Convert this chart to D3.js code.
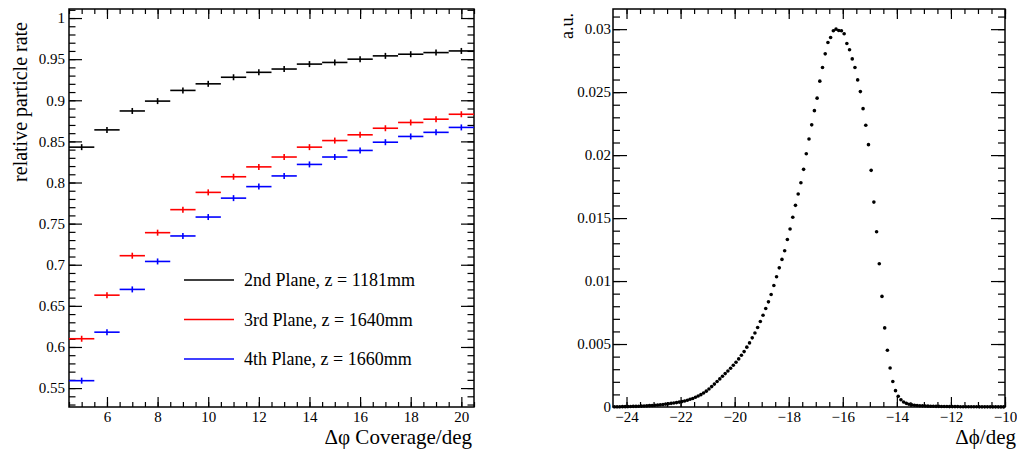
<!DOCTYPE html>
<html>
<head>
<meta charset="utf-8">
<script src="https://cdn.jsdelivr.net/npm/d3@7"></script>
<style>
  body { margin: 0; background: #fff; }
  svg { display: block; }
  text { font-family: "Liberation Serif", "Times New Roman", serif; fill: #000; }
</style>
</head>
<body>
<svg id="chart" width="1017" height="452"></svg>
<script>
  "use strict";

  // left pad: relative particle rate vs. coverage (bin centres, width 1 deg)
  const coverage = [5, 6, 7, 8, 9, 10, 11, 12, 13, 14, 15, 16, 17, 18, 19, 20];
  const rate2nd = [0.843, 0.864, 0.887, 0.899, 0.912, 0.920, 0.928, 0.934, 0.938, 0.944, 0.946, 0.950, 0.954, 0.956, 0.958, 0.960];
  const rate3rd = [0.610, 0.663, 0.711, 0.739, 0.767, 0.788, 0.807, 0.819, 0.831, 0.843, 0.851, 0.858, 0.866, 0.873, 0.877, 0.883];
  const rate4th = [0.559, 0.618, 0.670, 0.704, 0.735, 0.758, 0.781, 0.795, 0.808, 0.822, 0.831, 0.839, 0.849, 0.856, 0.861, 0.867];
  const planeLabels = ["2nd Plane, z = 1181mm", "3rd Plane, z = 1640mm", "4th Plane, z = 1660mm"];
  const coverageTicks = [6, 8, 10, 12, 14, 16, 18, 20];

  // right pad: delta phi distribution, 0.1 deg bins starting at -24.5
  const dphiFirstCentre = -24.45;
  const dphiBinWidth = 0.1;
  const dphiValues = [
    0.00002, 0.00002, 0.00002, 0.00003, 0.00003, 0.00003, 0.00004, 0.00005, 0.00005, 0.00006,
    0.00007, 0.00008, 0.00009, 0.00011, 0.00012, 0.00014, 0.00016, 0.00018, 0.00020, 0.00023,
    0.00026, 0.00029, 0.00032, 0.00035, 0.00039, 0.00043, 0.00048, 0.00054, 0.00061, 0.00068,
    0.00077, 0.00087, 0.00098, 0.00111, 0.00126, 0.00143, 0.00162, 0.00182, 0.00202, 0.00223,
    0.00244, 0.00265, 0.00286, 0.00308, 0.00332, 0.00355, 0.00382, 0.00411, 0.00440, 0.00475,
    0.00509, 0.00549, 0.00588, 0.00631, 0.00679, 0.00729, 0.00782, 0.00835, 0.00893, 0.00965,
    0.01034, 0.01105, 0.01172, 0.01240, 0.01330, 0.01413, 0.01506, 0.01601, 0.01691, 0.01781,
    0.01887, 0.02011, 0.02128, 0.02240, 0.02353, 0.02452, 0.02587, 0.02695, 0.02804, 0.02894,
    0.02934, 0.02987, 0.03000, 0.02989, 0.02987, 0.02963, 0.02886, 0.02836, 0.02764, 0.02695,
    0.02597, 0.02504, 0.02369, 0.02237, 0.02083, 0.01879, 0.01627, 0.01391, 0.01137, 0.00878,
    0.00628, 0.00451, 0.00310, 0.00202, 0.00130, 0.00085, 0.00058, 0.00040, 0.00029, 0.00022,
    0.00017, 0.00014, 0.00012, 0.00010, 0.00009, 0.00008, 0.00007, 0.00006, 0.00006, 0.00005,
    0.00005, 0.00004, 0.00004, 0.00004, 0.00003, 0.00003, 0.00003, 0.00003, 0.00002, 0.00002,
    0.00002, 0.00002, 0.00002, 0.00002, 0.00002, 0.00001, 0.00001, 0.00001, 0.00001, 0.00001,
    0.00001, 0.00001, 0.00001, 0.00001, 0.00001
  ];
  const dphiTicks = [-24, -22, -20, -18, -16, -14, -12, -10];
  const auTicks = [0, 0.005, 0.01, 0.015, 0.02, 0.025, 0.03];

  const svg = d3.select("#chart");
  const serif = '"Liberation Serif", "Times New Roman", serif';
  const trim = (digits) => (d) => String(+d.toFixed(digits)).replace("-", "\u2212");

  // ROOT-like frame: ticks pointing inwards on all four sides
  function drawFrame(g, x, y, opt) {
    const [x0, x1] = x.range();
    const [y1, y0] = y.range();
    const major = (sel) => {
      sel.attr("font-family", null).style("font-family", serif);
      sel.select(".domain").remove();
      sel.selectAll("line").attr("stroke", "#000").attr("stroke-width", 1.2);
      sel.selectAll("text").attr("font-size", 15).style("font-family", serif).attr("fill", "#000");
    };
    const minor = (sel) => {
      sel.select(".domain").remove();
      sel.selectAll("text").remove();
      sel.selectAll("line").attr("stroke", "#000").attr("stroke-width", 1.2);
    };

    g.append("g").attr("transform", `translate(0,${y1})`)
      .call(d3.axisBottom(x).tickValues(opt.xMajor).tickSize(-opt.xLen).tickPadding(4.5).tickFormat(opt.xFmt))
      .call(major);
    g.append("g").attr("transform", `translate(0,${y1})`)
      .call(d3.axisBottom(x).tickValues(opt.xMinor).tickSize(-opt.xLen / 2))
      .call(minor);
    g.append("g").attr("transform", `translate(0,${y0})`)
      .call(d3.axisTop(x).tickValues(opt.xMajor).tickSize(-opt.xLen))
      .call(minor);
    g.append("g").attr("transform", `translate(0,${y0})`)
      .call(d3.axisTop(x).tickValues(opt.xMinor).tickSize(-opt.xLen / 2))
      .call(minor);

    g.append("g").attr("transform", `translate(${x0},0)`)
      .call(d3.axisLeft(y).tickValues(opt.yMajor).tickSize(-opt.yLen).tickPadding(opt.yPad).tickFormat(opt.yFmt))
      .call(major);
    g.append("g").attr("transform", `translate(${x0},0)`)
      .call(d3.axisLeft(y).tickValues(opt.yMinor).tickSize(-opt.yLen / 2))
      .call(minor);
    g.append("g").attr("transform", `translate(${x1},0)`)
      .call(d3.axisRight(y).tickValues(opt.yMajor).tickSize(-opt.yLen))
      .call(minor);
    g.append("g").attr("transform", `translate(${x1},0)`)
      .call(d3.axisRight(y).tickValues(opt.yMinor).tickSize(-opt.yLen / 2))
      .call(minor);

    g.append("rect")
      .attr("x", x0).attr("y", y0)
      .attr("width", x1 - x0).attr("height", y1 - y0)
      .attr("fill", "none").attr("stroke", "#000").attr("stroke-width", 1.5);
  }

  // ---------- left pad ----------
  const xCov = d3.scaleLinear().domain([4.5, 20.5]).range([69, 474]);
  const yRate = d3.scaleLinear().domain([0.527, 1.011]).range([407, 9]);
  const left = svg.append("g");

  drawFrame(left, xCov, yRate, {
    xMajor: coverageTicks,
    xMinor: d3.range(9, 42).map((k) => k / 2),
    xFmt: trim(0),
    xLen: 10,
    yMajor: d3.range(11, 21).map((k) => k / 20),
    yMinor: d3.range(53, 102).map((k) => k / 100),
    yFmt: trim(2),
    yLen: 13,
    yPad: 4,
  });

  const planes = [
    { label: planeLabels[0], color: "#000000", values: rate2nd },
    { label: planeLabels[1], color: "#ff0000", values: rate3rd },
    { label: planeLabels[2], color: "#0000ff", values: rate4th },
  ];

  planes.forEach((plane) => {
    const pts = left.append("g").attr("stroke", plane.color).attr("stroke-width", 1.6)
      .selectAll("g").data(coverage.map((c, i) => ({ c, v: plane.values[i] }))).join("g");
    pts.append("line")
      .attr("x1", (d) => xCov(d.c - 0.5)).attr("x2", (d) => xCov(d.c + 0.5))
      .attr("y1", (d) => yRate(d.v)).attr("y2", (d) => yRate(d.v));
    pts.append("line")
      .attr("x1", (d) => xCov(d.c)).attr("x2", (d) => xCov(d.c))
      .attr("y1", (d) => yRate(d.v) - 3).attr("y2", (d) => yRate(d.v) + 3);
  });

  const legend = left.append("g").attr("transform", "translate(184,280)");
  planes.forEach((plane, i) => {
    const row = legend.append("g").attr("transform", `translate(0,${i * 39.5})`);
    row.append("line").attr("x1", 0).attr("x2", 50)
      .attr("stroke", plane.color).attr("stroke-width", 1.6);
    row.append("text").attr("x", 60).attr("y", 6).attr("font-size", 18).text(plane.label);
  });

  left.append("text")
    .attr("transform", "translate(27,22) rotate(-90)")
    .attr("text-anchor", "end").attr("font-size", 20)
    .text("relative particle rate");
  left.append("text")
    .attr("x", 472).attr("y", 444)
    .attr("text-anchor", "end").attr("font-size", 21)
    .text("\u0394\u03c6 Coverage/deg");

  // ---------- right pad ----------
  const xPhi = d3.scaleLinear().domain([-24.5, -10]).range([613, 1005]);
  const yAu = d3.scaleLinear().domain([0, 0.0316]).range([407, 9]);
  const right = svg.append("g");

  drawFrame(right, xPhi, yAu, {
    xMajor: dphiTicks,
    xMinor: d3.range(-48, -19).map((k) => k / 2),
    xFmt: trim(0),
    xLen: 10,
    yMajor: auTicks,
    yMinor: d3.range(0, 32).map((k) => k / 1000),
    yFmt: trim(3),
    yLen: 14,
    yPad: 2,
  });

  right.append("g")
    .selectAll("circle")
    .data(dphiValues)
    .join("circle")
    .attr("cx", (d, i) => xPhi(dphiFirstCentre + i * dphiBinWidth))
    .attr("cy", (d) => yAu(d))
    .attr("r", 1.8)
    .attr("fill", "#000");

  right.append("text")
    .attr("transform", "translate(573,13) rotate(-90)")
    .attr("text-anchor", "end").attr("font-size", 18)
    .text("a.u.");
  right.append("text")
    .attr("x", 1016).attr("y", 444)
    .attr("text-anchor", "end").attr("font-size", 21)
    .text("\u0394\u03d5/deg");
</script>
</body>
</html>
